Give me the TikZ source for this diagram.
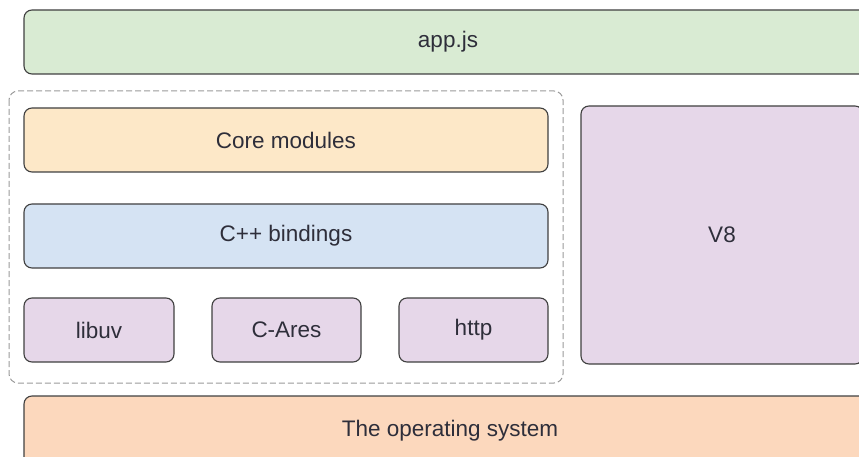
\documentclass[tikz,border=0pt]{standalone}
\usepackage{fontspec}
\setmainfont{Liberation Sans}
\usetikzlibrary{positioning}

\definecolor{appgreen}{HTML}{D9EBD3}
\definecolor{coreyellow}{HTML}{FDE8C8}
\definecolor{bindblue}{HTML}{D5E3F3}
\definecolor{libpurple}{HTML}{E6D7E9}
\definecolor{ospeach}{HTML}{FCD8BD}
\definecolor{edgegray}{HTML}{404040}
\definecolor{textgray}{HTML}{2E2E3A}

\tikzset{
  layer/.style={draw=edgegray, line width=1.1pt, rounded corners=8pt,
    minimum height=64pt, inner sep=0pt, text=textgray,
    font=\fontsize{22.5}{26}\selectfont},
  group/.style={draw=gray!80, dash pattern=on 6pt off 3pt, line width=1pt, rounded corners=9pt}
}

\begin{document}
\begin{tikzpicture}[x=1pt,y=-1pt]
        \useasboundingbox (0,0) rectangle (859,457);
        % Node.js layers
        \node[layer, fill=appgreen, minimum width=848pt] (app) at (448,42) {app.js};
        \draw[group] (9,91) rectangle (563,383);
        \node[layer, fill=coreyellow, minimum width=524pt] (core) at (286,140) {Core modules};
        \node[layer, fill=bindblue, minimum width=524pt] (bind) at (286,236) {C++ bindings};
        \node[layer, fill=libpurple, minimum width=150pt] (libuv) at (99,330) {libuv};
        \node[layer, fill=libpurple, minimum width=149pt] (cares) at (286.5,330) {C-Ares};
        \node[layer, fill=libpurple, minimum width=149pt] (http) at (473.5,330) {http};
        \node[layer, fill=libpurple, minimum width=282pt, minimum height=258pt] (v8) at (722,235) {V8};
        \node[layer, fill=ospeach, minimum width=852pt, minimum height=70pt] (os) at (450,431) {The operating system};
\end{tikzpicture}
\end{document}
